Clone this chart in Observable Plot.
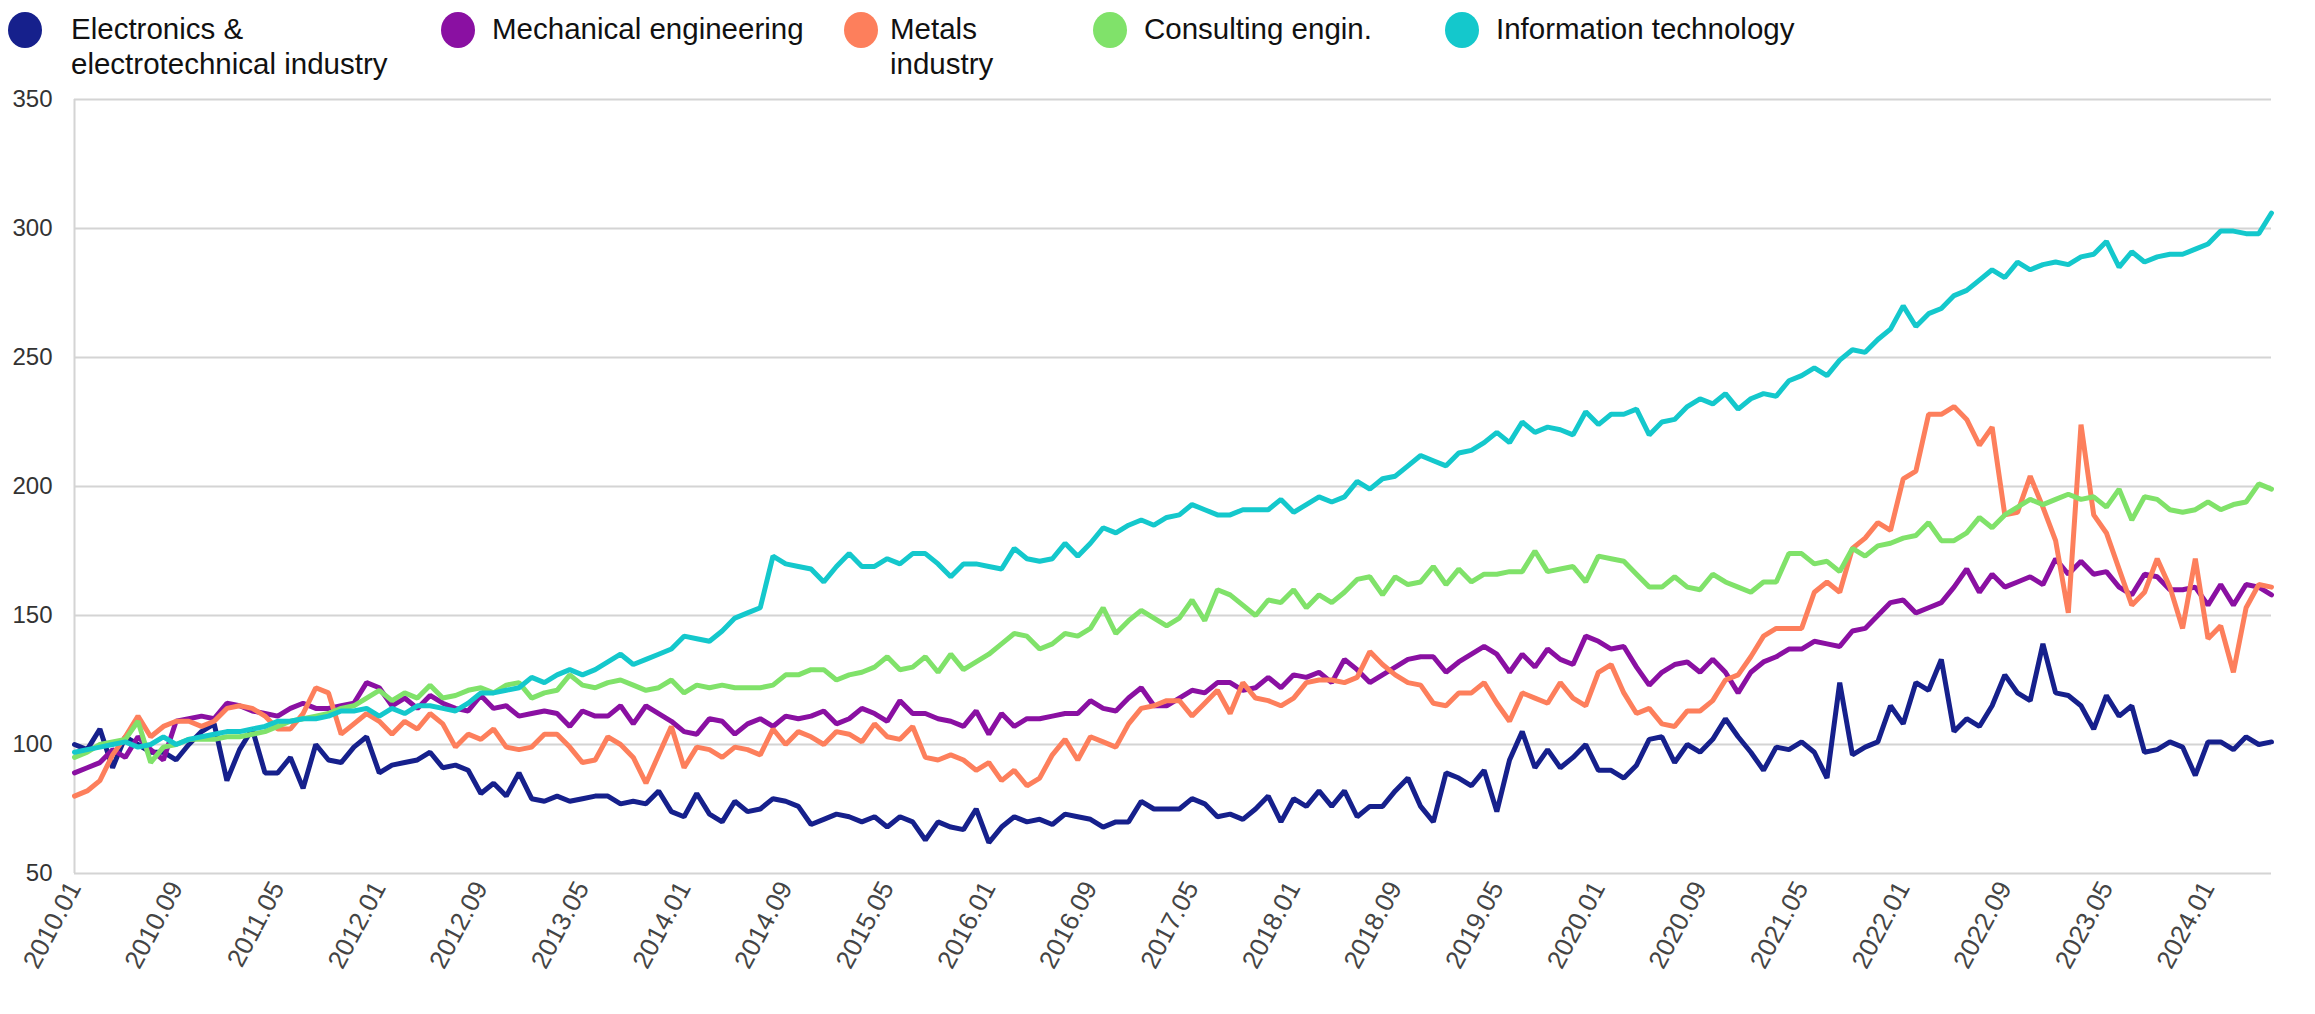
<!DOCTYPE html>
<html>
<head>
<meta charset="utf-8">
<script src="https://cdn.jsdelivr.net/npm/d3@7"></script>
<script src="https://cdn.jsdelivr.net/npm/@observablehq/plot@0.6"></script>
<style>
  html, body { margin: 0; padding: 0; background: #fff; }
  body { width: 2315px; height: 1014px; overflow: hidden; font-family: "Liberation Sans", Arial, sans-serif; }
  #legend { position: relative; width: 2315px; height: 85px; }
  .dot { position: absolute; width: 34px; height: 36px; border-radius: 50%; top: 12px; }
  .lab { position: absolute; top: 11px; font-size: 29.5px; line-height: 35px; color: #111; }
  #chart svg { display: block; }
</style>
</head>
<body>
<div id="legend"></div>
<div id="chart"></div>
<script>
// ---- data (monthly index values, 2010.01 – 2024.06) ----
const seriesNames = [
  "Electronics & electrotechnical industry",
  "Mechanical engineering",
  "Metals industry",
  "Consulting engin.",
  "Information technology"
];
const seriesColors = ["#16208c", "#8a10a2", "#fd7f5c", "#80e26a", "#14c8cc"];

const electronics = [
  100, 98, 106, 91, 103, 100, 97, 97, 94, 100,
  105, 108, 86, 98, 106, 89, 89, 95, 83, 100,
  94, 93, 99, 103, 89, 92, 93, 94, 97, 91,
  92, 90, 81, 85, 80, 89, 79, 78, 80, 78,
  79, 80, 80, 77, 78, 77, 82, 74, 72, 81,
  73, 70, 78, 74, 75, 79, 78, 76, 69, 71,
  73, 72, 70, 72, 68, 72, 70, 63, 70, 68,
  67, 75, 62, 68, 72, 70, 71, 69, 73, 72,
  71, 68, 70, 70, 78, 75, 75, 75, 79, 77,
  72, 73, 71, 75, 80, 70, 79, 76, 82, 76,
  82, 72, 76, 76, 82, 87, 76, 70, 89, 87,
  84, 90, 74, 94, 105, 91, 98, 91, 95, 100,
  90, 90, 87, 92, 102, 103, 93, 100, 97, 102,
  110, 103, 97, 90, 99, 98, 101, 97, 87, 124,
  96, 99, 101, 115, 108, 124, 121, 133, 105, 110,
  107, 115, 127, 120, 117, 139, 120, 119, 115, 106,
  119, 111, 115, 97, 98, 101, 99, 88, 101, 101,
  98, 103, 100, 101
];
const mechanical = [
  89, 91, 93, 98, 95, 103, 98, 94, 109, 110,
  111, 110, 116, 115, 113, 112, 111, 114, 116, 114,
  114, 115, 116, 124, 122, 115, 118, 114, 119, 116,
  114, 113, 119, 114, 115, 111, 112, 113, 112, 107,
  113, 111, 111, 115, 108, 115, 112, 109, 105, 104,
  110, 109, 104, 108, 110, 107, 111, 110, 111, 113,
  108, 110, 114, 112, 109, 117, 112, 112, 110, 109,
  107, 113, 104, 112, 107, 110, 110, 111, 112, 112,
  117, 114, 113, 118, 122, 115, 115, 118, 121, 120,
  124, 124, 121, 122, 126, 122, 127, 126, 128, 124,
  133, 129, 124, 127, 130, 133, 134, 134, 128, 132,
  135, 138, 135, 128, 135, 130, 137, 133, 131, 142,
  140, 137, 138, 130, 123, 128, 131, 132, 128, 133,
  128, 120, 128, 132, 134, 137, 137, 140, 139, 138,
  144, 145, 150, 155, 156, 151, 153, 155, 161, 168,
  159, 166, 161, 163, 165, 162, 172, 166, 171, 166,
  167, 161, 158, 166, 165, 160, 160, 161, 154, 162,
  154, 162, 161, 158
];
const metals = [
  80, 82, 86, 96, 103, 111, 103, 107, 109, 109,
  107, 109, 114, 115, 114, 111, 106, 106, 112, 122,
  120, 104, 108, 112, 109, 104, 109, 106, 112, 108,
  99, 104, 102, 106, 99, 98, 99, 104, 104, 99,
  93, 94, 103, 100, 95, 85, 96, 107, 91, 99,
  98, 95, 99, 98, 96, 106, 100, 105, 103, 100,
  105, 104, 101, 108, 103, 102, 107, 95, 94, 96,
  94, 90, 93, 86, 90, 84, 87, 96, 102, 94,
  103, 101, 99, 108, 114, 115, 117, 117, 111, 116,
  121, 112, 124, 118, 117, 115, 118, 124, 125, 125,
  124, 126, 136, 131, 127, 124, 123, 116, 115, 120,
  120, 124, 116, 109, 120, 118, 116, 124, 118, 115,
  128, 131, 120, 112, 114, 108, 107, 113, 113, 117,
  125, 127, 134, 142, 145, 145, 145, 159, 163, 159,
  176, 180, 186, 183, 203, 206, 228, 228, 231, 226,
  216, 223, 189, 190, 204, 192, 179, 151, 224, 189,
  182, 168, 154, 159, 172, 161, 145, 172, 141, 146,
  128, 153, 162, 161
];
const consulting = [
  95, 97, 100, 101, 102, 109, 93, 99, 100, 102,
  102, 102, 103, 103, 104, 105, 107, 109, 110, 111,
  112, 114, 115, 118, 121, 117, 120, 118, 123, 118,
  119, 121, 122, 120, 123, 124, 118, 120, 121, 127,
  123, 122, 124, 125, 123, 121, 122, 125, 120, 123,
  122, 123, 122, 122, 122, 123, 127, 127, 129, 129,
  125, 127, 128, 130, 134, 129, 130, 134, 128, 135,
  129, 132, 135, 139, 143, 142, 137, 139, 143, 142,
  145, 153, 143, 148, 152, 149, 146, 149, 156, 148,
  160, 158, 154, 150, 156, 155, 160, 153, 158, 155,
  159, 164, 165, 158, 165, 162, 163, 169, 162, 168,
  163, 166, 166, 167, 167, 175, 167, 168, 169, 163,
  173, 172, 171, 166, 161, 161, 165, 161, 160, 166,
  163, 161, 159, 163, 163, 174, 174, 170, 171, 167,
  176, 173, 177, 178, 180, 181, 186, 179, 179, 182,
  188, 184, 189, 192, 195, 193, 195, 197, 195, 196,
  192, 199, 187, 196, 195, 191, 190, 191, 194, 191,
  193, 194, 201, 199
];
const infotech = [
  97, 98, 99, 100, 101, 99, 100, 103, 100, 102,
  103, 104, 105, 105, 106, 107, 109, 109, 110, 110,
  111, 113, 113, 114, 111, 114, 112, 115, 115, 114,
  113, 116, 120, 120, 121, 122, 126, 124, 127, 129,
  127, 129, 132, 135, 131, 133, 135, 137, 142, 141,
  140, 144, 149, 151, 153, 173, 170, 169, 168, 163,
  169, 174, 169, 169, 172, 170, 174, 174, 170, 165,
  170, 170, 169, 168, 176, 172, 171, 172, 178, 173,
  178, 184, 182, 185, 187, 185, 188, 189, 193, 191,
  189, 189, 191, 191, 191, 195, 190, 193, 196, 194,
  196, 202, 199, 203, 204, 208, 212, 210, 208, 213,
  214, 217, 221, 217, 225, 221, 223, 222, 220, 229,
  224, 228, 228, 230, 220, 225, 226, 231, 234, 232,
  236, 230, 234, 236, 235, 241, 243, 246, 243, 249,
  253, 252, 257, 261, 270, 262, 267, 269, 274, 276,
  280, 284, 281, 287, 284, 286, 287, 286, 289, 290,
  295, 285, 291, 287, 289, 290, 290, 292, 294, 299,
  299, 298, 298, 306
];
const xTicks = ["2010.01","2010.09","2011.05","2012.01","2012.09","2013.05","2014.01","2014.09",
  "2015.05","2016.01","2016.09","2017.05","2018.01","2018.09","2019.05","2020.01","2020.09",
  "2021.05","2022.01","2022.09","2023.05","2024.01"];
const yTicks = [50, 100, 150, 200, 250, 300, 350];

// month labels 2010.01 ... (one per value)
const months = electronics.map((_, i) => {
  const y = 2010 + Math.floor(i / 12), m = (i % 12) + 1;
  return `${y}.${String(m).padStart(2, "0")}`;
});

const seriesValues = [electronics, mechanical, metals, consulting, infotech];
const rows = [];
seriesValues.forEach((vals, s) => vals.forEach((v, i) => rows.push({month: months[i], value: v, series: seriesNames[s]})));

// ---- legend ----
const legendPos = [
  {dot: 8, text: 71, width: 340},
  {dot: 441, text: 492, width: 340},
  {dot: 844, text: 890, width: 130},
  {dot: 1093, text: 1144, width: 300},
  {dot: 1445, text: 1496, width: 400}
];
const legend = document.getElementById("legend");
seriesNames.forEach((name, i) => {
  const p = legendPos[i];
  const dot = document.createElement("div");
  dot.className = "dot";
  dot.style.left = p.dot + "px";
  dot.style.background = seriesColors[i];
  legend.appendChild(dot);
  const lab = document.createElement("div");
  lab.className = "lab";
  lab.style.left = p.text + "px";
  lab.style.width = p.width + "px";
  lab.textContent = name;
  legend.appendChild(lab);
});

// ---- chart ----
const chart = Plot.plot({
  width: 2315,
  height: 929,
  marginTop: 14,
  marginBottom: 141,
  marginLeft: 74,
  marginRight: 44,
  style: {fontFamily: "'Liberation Sans', Arial, sans-serif", background: "#fff"},
  x: {type: "point", domain: months, padding: 0},
  y: {domain: [50, 350]},
  color: {domain: seriesNames, range: seriesColors},
  marks: [
    Plot.gridY(yTicks, {stroke: "#d4d4d4", strokeOpacity: 1, strokeWidth: 2}),
    Plot.ruleX([months[0]], {stroke: "#d4d4d4", strokeWidth: 2}),
    Plot.axisY(yTicks, {tickSize: 0, tickPadding: 22, fontSize: 24, fill: "#333", label: null}),
    Plot.axisX(xTicks, {tickSize: 0, tickPadding: 10, tickRotate: -62, fontSize: 26, fill: "#444", label: null, textAnchor: "end"}),
    Plot.line(rows, {x: "month", y: "value", z: "series", stroke: "series", strokeWidth: 5, strokeLinejoin: "miter", curve: "linear"})
  ]
});
document.getElementById("chart").appendChild(chart);
</script>
</body>
</html>
